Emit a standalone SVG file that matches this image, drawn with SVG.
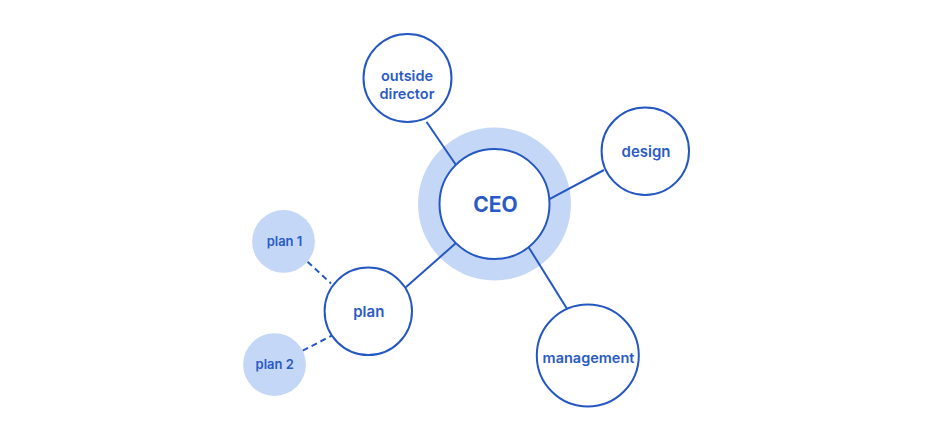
<svg xmlns="http://www.w3.org/2000/svg" width="930" height="444" viewBox="0 0 930 444">
  <style>
    .node { fill: #ffffff; stroke: #2557C2; stroke-width: 2; }
    .soft { fill: #C5D7F7; stroke: none; }
    .link { stroke: #2557C2; stroke-width: 2; fill: none; }
    .dash { stroke: #2557C2; stroke-width: 2; fill: none; stroke-dasharray: 6 4; }
    .lbl { font-family: Inter, "Liberation Sans", sans-serif; font-weight: 600; fill: #2A5BC4; text-anchor: middle; font-size: 15px; }
    .od { font-size: 14.5px; }
    .mg { font-size: 14.5px; }
    .small { font-size: 13px; }
    .big { font-size: 21px; font-weight: 700; }
  </style>
  <rect width="930" height="444" fill="#ffffff"/>
  <g id="ceo-halo">
    <circle class="soft" cx="494.5" cy="204" r="76.5"/>
  </g>
  <g id="connectors">
    <line class="link" x1="426.5" y1="121.8" x2="456" y2="165"/>
    <line class="link" x1="549" y1="199.3" x2="604" y2="170"/>
    <line class="link" x1="528.3" y1="246.7" x2="566.7" y2="308.3"/>
    <line class="link" x1="455.7" y1="243.3" x2="405.8" y2="287.2"/>
    <line class="dash" x1="307.5" y1="261.7" x2="331" y2="283.5"/>
    <line class="dash" x1="302.7" y1="350.7" x2="332" y2="335.5"/>
  </g>
  <g id="ceo">
    <circle class="node" cx="494.5" cy="204" r="55"/>
    <text class="lbl big" x="495.5" y="212">CEO</text>
  </g>
  <g id="outside-director">
    <circle class="node" cx="407.5" cy="78" r="44"/>
    <text class="lbl od" x="407" y="81">outside</text>
    <text class="lbl od" x="407" y="98.7">director</text>
  </g>
  <g id="design">
    <circle class="node" cx="645.3" cy="151.2" r="43.7"/>
    <text class="lbl" x="646" y="157.3">design</text>
  </g>
  <g id="management">
    <circle class="node" cx="587.8" cy="355.5" r="51"/>
    <text class="lbl mg" x="588.5" y="363">management</text>
  </g>
  <g id="plan">
    <circle class="node" cx="368.3" cy="311.3" r="43.7"/>
    <text class="lbl" x="368.8" y="317">plan</text>
  </g>
  <g id="plan-1">
    <circle class="soft" cx="283.5" cy="241.4" r="31.4"/>
    <text class="lbl small" x="284.5" y="245.7">plan 1</text>
  </g>
  <g id="plan-2">
    <circle class="soft" cx="274.5" cy="364.6" r="31.4"/>
    <text class="lbl small" x="274.7" y="369.3">plan 2</text>
  </g>
</svg>
